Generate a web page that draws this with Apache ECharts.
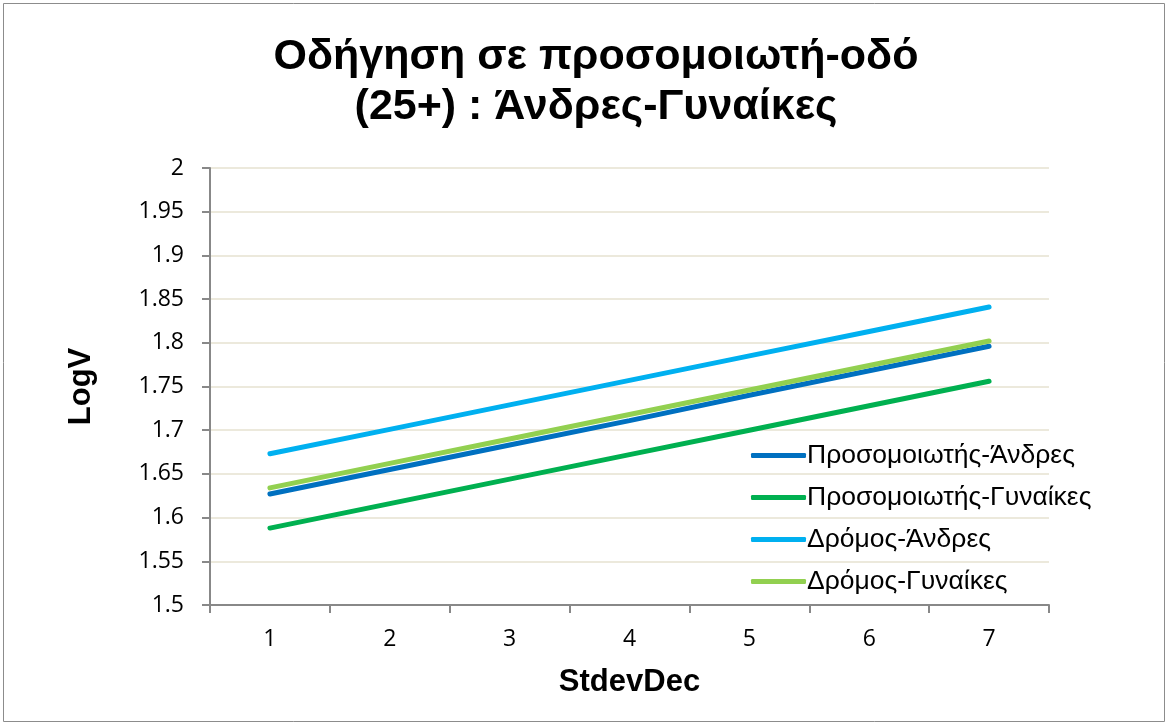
<!DOCTYPE html>
<html>
<head>
<meta charset="utf-8">
<script src="https://cdn.jsdelivr.net/npm/echarts@6/dist/echarts.min.js"></script>
<style>
  html, body { margin: 0; padding: 0; background: #fff; }
  #chart { width: 1168px; height: 725px; }
</style>
</head>
<body>
<div id="chart"></div>
<script>
// StdevDec categories
const categories = ["1", "2", "3", "4", "5", "6", "7"];

// LogV values
const simMen = [1.627, 1.655, 1.683, 1.711, 1.740, 1.768, 1.796];
const simWomen = [1.588, 1.616, 1.644, 1.672, 1.700, 1.728, 1.756];
const roadMen = [1.673, 1.701, 1.729, 1.757, 1.785, 1.813, 1.841];
const roadWomen = [1.634, 1.662, 1.690, 1.718, 1.746, 1.774, 1.802];

const seriesNames = [
  "Προσομοιωτής-Άνδρες",
  "Προσομοιωτής-Γυναίκες",
  "Δρόμος-Άνδρες",
  "Δρόμος-Γυναίκες",
];
const seriesColors = ["#0070c0", "#00b050", "#00b0f0", "#92d050"];
const seriesData = [simMen, simWomen, roadMen, roadWomen];

const chart = echarts.init(document.getElementById("chart"));

const labelFont = "'Open Sans', 'Liberation Sans', sans-serif";
const arialFont = "'Liberation Sans', Arial, sans-serif";

chart.setOption({
  backgroundColor: "#fff",
  animation: false,
  title: {
    text: "Οδήγηση σε προσομοιωτή-οδό\n(25+) : Άνδρες-Γυναίκες",
    left: 591,
    textAlign: "center",
    top: 27,
    textStyle: {
      fontFamily: arialFont,
      fontWeight: "bold",
      fontSize: 43,
      lineHeight: 50,
      color: "#000",
    },
  },
  graphic: [
    {
      type: "rect",
      shape: { x: 3.5, y: 3.5, width: 1161, height: 718 },
      style: { fill: "none", stroke: "#8c8c8c", lineWidth: 1 },
      silent: true,
    },
  ],
  legend: {
    orient: "vertical",
    left: 746,
    top: 437,
    itemWidth: 55,
    itemHeight: 5,
    itemGap: 15,
    icon: "roundRect",
    data: seriesNames,
    textStyle: {
      fontFamily: arialFont,
      fontSize: 26.5,
      color: "#000",
      padding: [0, 0, 0, -4],
    },
  },
  grid: {
    left: 210,
    right: 119,
    top: 168,
    bottom: 120,
  },
  xAxis: {
    type: "category",
    data: categories,
    boundaryGap: true,
    name: "StdevDec",
    nameLocation: "middle",
    nameGap: 62,
    nameTextStyle: {
      fontFamily: arialFont,
      fontWeight: "bold",
      fontSize: 31,
      color: "#000",
    },
    axisLine: { lineStyle: { color: "#888", width: 2 } },
    axisTick: { show: true, length: 8, lineStyle: { color: "#888", width: 2 } },
    axisLabel: {
      margin: 23,
      fontFamily: labelFont,
      fontSize: 23,
      color: "#000",
    },
  },
  yAxis: {
    type: "value",
    min: 1.5,
    max: 2,
    interval: 0.05,
    name: "LogV",
    nameLocation: "middle",
    nameGap: 113,
    nameTextStyle: {
      fontFamily: arialFont,
      fontWeight: "bold",
      fontSize: 31,
      color: "#000",
    },
    axisLine: { show: true, lineStyle: { color: "#888", width: 2 } },
    axisTick: { show: true, length: 8, lineStyle: { color: "#888", width: 2 } },
    splitLine: { lineStyle: { color: "#ece9dc", width: 2 } },
    axisLabel: {
      margin: 26,
      fontFamily: labelFont,
      fontSize: 23,
      color: "#000",
      formatter: (v) => String(Math.round(v * 100) / 100),
    },
  },
  series: seriesNames.map((name, i) => ({
    name: name,
    type: "line",
    data: seriesData[i],
    showSymbol: false,
    symbol: "none",
    color: seriesColors[i],
    lineStyle: { width: 5, color: seriesColors[i], cap: "round" },
  })),
});
</script>
</body>
</html>
